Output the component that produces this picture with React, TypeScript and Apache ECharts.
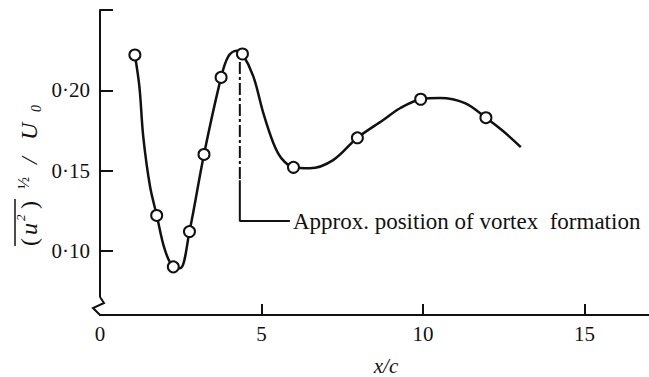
import { useEffect, useRef } from 'react';
import * as echarts from 'echarts';

// Axis ticks and labels
const xTicks = [0, 5, 10, 15];
const yTickLabels = [0.1, 0.15, 0.2];
const yTickMarks = [0.1, 0.15, 0.2, 0.25];

// Measured stations: downstream distance x/c and r.m.s. intensity
const stationX = [1.08, 1.755, 2.27, 2.77, 3.22, 3.75, 4.41, 5.99, 7.97, 9.93, 11.95];
const stationY = [0.222, 0.122, 0.09, 0.112, 0.16, 0.208, 0.2226, 0.152, 0.1704, 0.1944, 0.1829];

// Faired curve through the stations
const curveX = [1.08, 1.22, 1.34, 1.55, 1.755, 2.01, 2.27, 2.48, 2.77, 3.22, 3.75, 3.97, 4.23, 4.41, 4.75, 5.06, 5.37, 5.62, 5.99, 6.5, 7.22, 7.97, 8.77, 9.29, 9.93, 10.53, 11.3, 11.95, 12.48, 13.03];
const curveY = [0.222, 0.2022, 0.171, 0.14, 0.1223, 0.1005, 0.09, 0.0891, 0.1119, 0.16, 0.208, 0.221, 0.2246, 0.2226, 0.2085, 0.1856, 0.167, 0.1576, 0.152, 0.1514, 0.1565, 0.1704, 0.1815, 0.1888, 0.1944, 0.1952, 0.192, 0.1829, 0.1746, 0.1646];

// Leader marking the vortex-formation station
const vortexX = 4.33;
const leaderTop = 0.2176;
const leaderBreak = 0.144;
const leaderFoot = 0.1185;
const leaderEndX = 5.88;
const leaderText = 'Approx. position of vortex  formation';

const INK = '#111';
const SERIF = 'Liberation Serif';

export default function App() {
  const ref = useRef<HTMLDivElement>(null);

  useEffect(() => {
    const chart = echarts.init(ref.current!, null, { renderer: 'svg' });
    const dot = (v: number) => v.toFixed(2).replace('.', '\u00B7');
    const glyph = (text: string, x: number, y: number, size: number, italic = true) => ({
      type: 'text',
      x,
      y,
      style: {
        text,
        fontSize: size,
        fontFamily: SERIF,
        fontStyle: italic ? 'italic' : 'normal',
        align: 'left',
        verticalAlign: 'middle',
        fill: INK,
      },
    });

    chart.setOption({
      animation: false,
      backgroundColor: '#fff',
      grid: { left: 100, right: 0, top: 10, bottom: 62 },
      xAxis: {
        type: 'value',
        min: 0,
        max: 17,
        axisLine: { onZero: false, lineStyle: { color: INK, width: 2 } },
        axisTick: { inside: true, length: 11, customValues: xTicks, lineStyle: { color: INK, width: 2 } },
        axisLabel: { customValues: xTicks, color: INK, fontFamily: SERIF, fontSize: 21, margin: 8 },
        splitLine: { show: false },
      },
      yAxis: {
        type: 'value',
        min: 0.06,
        max: 0.25,
        axisLine: { show: true, onZero: false, lineStyle: { color: INK, width: 2 } },
        axisTick: { show: true, inside: true, length: 13, customValues: yTickMarks, lineStyle: { color: INK, width: 2 } },
        axisLabel: { customValues: yTickLabels, formatter: dot, color: INK, fontFamily: SERIF, fontSize: 21, margin: 10 },
        splitLine: { show: false },
      },
      series: [
        {
          type: 'line',
          data: curveX.map((x, i) => [x, curveY[i]]),
          smooth: 0.35,
          symbol: 'none',
          lineStyle: { color: INK, width: 2.5 },
          z: 2,
        },
        {
          type: 'scatter',
          data: stationX.map((x, i) => [x, stationY[i]]),
          symbol: 'circle',
          symbolSize: 11,
          itemStyle: { color: '#fff', borderColor: INK, borderWidth: 2, opacity: 1 },
          z: 4,
        },
        {
          type: 'line',
          data: [[vortexX, leaderTop], [vortexX, leaderBreak]],
          symbol: 'none',
          lineStyle: { color: INK, width: 2, type: [12, 3, 3, 3] },
          z: 3,
        },
        {
          type: 'line',
          data: [[vortexX, leaderBreak], [vortexX, leaderFoot], [leaderEndX, leaderFoot]],
          symbol: 'none',
          lineStyle: { color: INK, width: 2 },
          endLabel: {
            show: true,
            formatter: leaderText,
            color: INK,
            fontFamily: SERIF,
            fontSize: 23,
            distance: 3,
          },
          z: 3,
        },
      ],
      graphic: [
        // axis break on the ordinate
        { type: 'rect', shape: { x: 95, y: 297, width: 10, height: 17 }, style: { fill: '#fff' }, z: 10 },
        {
          type: 'polyline',
          shape: { points: [[100, 297], [104, 303], [93, 308], [100, 315]] },
          style: { stroke: INK, lineWidth: 2, fill: 'none' },
          z: 11,
        },
        // abscissa title
        {
          type: 'text',
          x: 386,
          y: 366,
          style: { text: 'x/c', fontSize: 21, fontFamily: SERIF, fontStyle: 'italic', align: 'center', verticalAlign: 'middle', fill: INK },
        },
        // ordinate title, (u²)^½ / U₀ set vertically
        {
          type: 'group',
          x: 29,
          y: 246,
          rotation: Math.PI / 2,
          children: [
            glyph('(', 0, 0, 24, false),
            glyph('u', 11, 0, 24),
            glyph('2', 25, -9, 13),
            glyph(')', 37, 0, 24, false),
            { type: 'line', shape: { x1: 0, y1: -14, x2: 47, y2: -14 }, style: { stroke: INK, lineWidth: 1.5 } },
            glyph('\u00BD', 57, -6, 16, false),
            glyph('/', 82, 0, 24),
            glyph('U', 106, 0, 24),
            glyph('0', 134, 7, 14),
          ],
        },
      ],
    });

    return () => chart.dispose();
  }, []);

  return <div ref={ref} style={{ position: 'fixed', left: 0, top: 0, width: 649, height: 377 }} />;
}
